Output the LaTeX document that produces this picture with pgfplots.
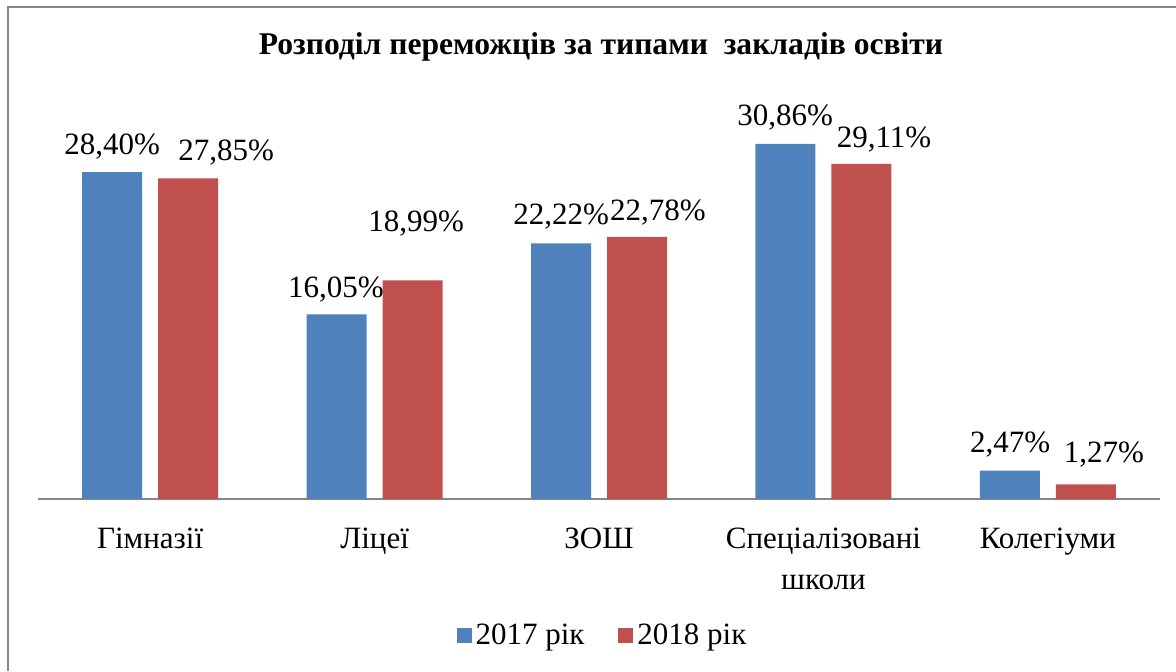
\documentclass[border=0pt]{standalone}
\usepackage{fontspec}
\setmainfont{Liberation Serif}
\usepackage{pgfplots}
\pgfplotsset{compat=1.18}
\definecolor{cblue}{HTML}{4F81BD}
\definecolor{cred}{HTML}{C0504D}
\definecolor{cgray}{HTML}{868686}
\begin{document}
\begin{tikzpicture}
\useasboundingbox (0,0) rectangle (588pt,335.5pt);
\draw[cgray, line width=1pt] (4pt,0pt) -- (4pt,332pt) -- (588pt,332pt);
\node[anchor=base, font=\bfseries\fontsize{15.8}{18}\selectfont] at (300.5pt,308pt) {Розподіл переможців за типами\ \ закладів освіти};
\begin{axis}[
  at={(19pt,86pt)}, anchor=south west,
  scale only axis, width=561pt, height=201.43pt,
  xmin=-0.5, xmax=4.5, ymin=0, ymax=35,
  ybar=8pt, bar width=30pt,
  axis x line=bottom, axis y line=none,
  x axis line style={-, draw=cgray, line width=1pt},
  xtick={0,1,2,3,4},
  xticklabels={Гімназії,Ліцеї,ЗОШ,{Спеціалізовані\\школи},Колегіуми},
  x tick label style={align=center, font=\fontsize{15.5}{20.5}\selectfont, anchor=north, inner sep=0pt, yshift=-14.5pt},
  major tick length=0pt,
  clip=false,
  legend columns=2,
  legend style={at={(0.504,-0.34)}, anchor=center, draw=none, fill=none,
    font=\fontsize{15.5}{18}\selectfont,
    /tikz/every even column/.append style={column sep=15pt}},
  legend image code/.code={\fill[#1] (0pt,-3.75pt) rectangle (7.5pt,3.75pt);},
]
\addplot[fill=cblue, draw=none] coordinates {(0,28.40) (1,16.05) (2,22.22) (3,30.86) (4,2.47)};
\addplot[fill=cred, draw=none] coordinates {(0,27.85) (1,18.99) (2,22.78) (3,29.11) (4,1.27)};
\legend{2017 рік, 2018 рік}
\begin{scope}[every node/.style={anchor=base, font=\fontsize{15.5}{18}\selectfont, inner sep=0pt}]
\node at (axis cs:-0.170,29.89) {28,40\%};
\node at (axis cs:0.338,29.45) {27,85\%};
\node at (axis cs:0.828,17.55) {16,05\%};
\node at (axis cs:1.185,23.20) {18,99\%};
\node at (axis cs:1.831,23.81) {22,22\%};
\node at (axis cs:2.263,24.24) {22,78\%};
\node at (axis cs:2.829,32.49) {30,86\%};
\node at (axis cs:3.270,30.58) {29,11\%};
\node at (axis cs:3.832,4.00) {2,47\%};
\node at (axis cs:4.250,3.21) {1,27\%};
\end{scope}
\end{axis}
\end{tikzpicture}
\end{document}
